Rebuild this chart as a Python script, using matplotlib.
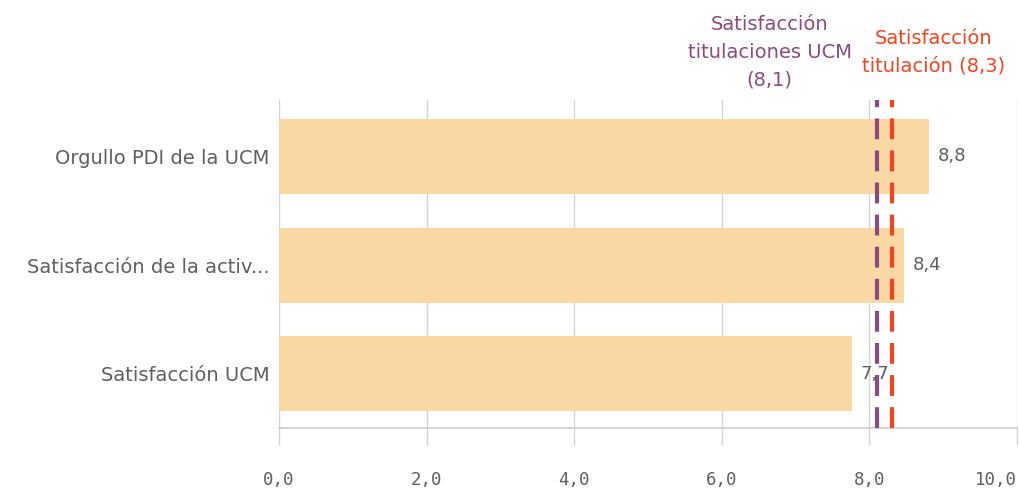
import matplotlib.pyplot as plt

categories = ["Orgullo PDI de la UCM", "Satisfacción de la activ...", "Satisfacción UCM"]
values = [8.81, 8.47, 7.76]
value_labels = ["8,8", "8,4", "7,7"]
ref_ucm = 8.1
ref_tit = 8.3
xticks = [0, 2, 4, 6, 8, 10]
xtick_labels = ["0,0", "2,0", "4,0", "6,0", "8,0", "10,0"]

GRID = "#d4d4d4"
TXT = "#5f5f5f"
BAR = "#f9d8a4"
PURPLE = "#8c4a80"
RED = "#f5431e"

fig = plt.figure(figsize=(10.19, 4.92), dpi=100)
ax = fig.add_axes([0.2738, 0.130, 0.7242, 0.667])

y = list(range(len(categories)))
ax.barh(y, values, height=0.69, color=BAR, zorder=2)
for yi, v, lab in zip(y, values, value_labels):
    ax.text(v + 0.12, yi, lab, va="center", ha="left", fontsize=13, color=TXT, zorder=5)

ax.axvline(ref_ucm, color=PURPLE, lw=3, ls=(0, (5, 2.7)), zorder=4)
ax.axvline(ref_tit, color=RED, lw=3, ls=(0, (5, 2.7)), zorder=4)

ax.set_xlim(0, 10)
ax.set_ylim(2.5, -0.52)
ax.set_xticks(xticks)
ax.set_xticklabels(xtick_labels, family="DejaVu Sans Mono", fontsize=12.5, color=TXT)
ax.get_xticklabels()[-1].set_horizontalalignment("right")
ax.get_xticklabels()[-1].set_x(10)
ax.set_yticks(y)
ax.set_yticklabels(categories, fontsize=14, color=TXT)
ax.tick_params(axis="y", length=0, pad=7)
ax.tick_params(axis="x", length=12, width=1, color=GRID, pad=19)
ax.grid(axis="x", color=GRID, lw=1, zorder=1)
for s in ["top", "right", "left"]:
    ax.spines[s].set_visible(False)
ax.spines["bottom"].set_color(GRID)
ax.spines["bottom"].set_linewidth(1.5)

ax.text(6.65, -0.96, "Satisfacción\ntitulaciones UCM\n(8,1)", ha="center", va="center",
        fontsize=14, color=PURPLE, linespacing=1.6, clip_on=False)
ax.text(8.87, -0.96, "Satisfacción\ntitulación (8,3)", ha="center", va="center",
        fontsize=14, color=RED, linespacing=1.6, clip_on=False)

fig.savefig("out.png", dpi=100)
